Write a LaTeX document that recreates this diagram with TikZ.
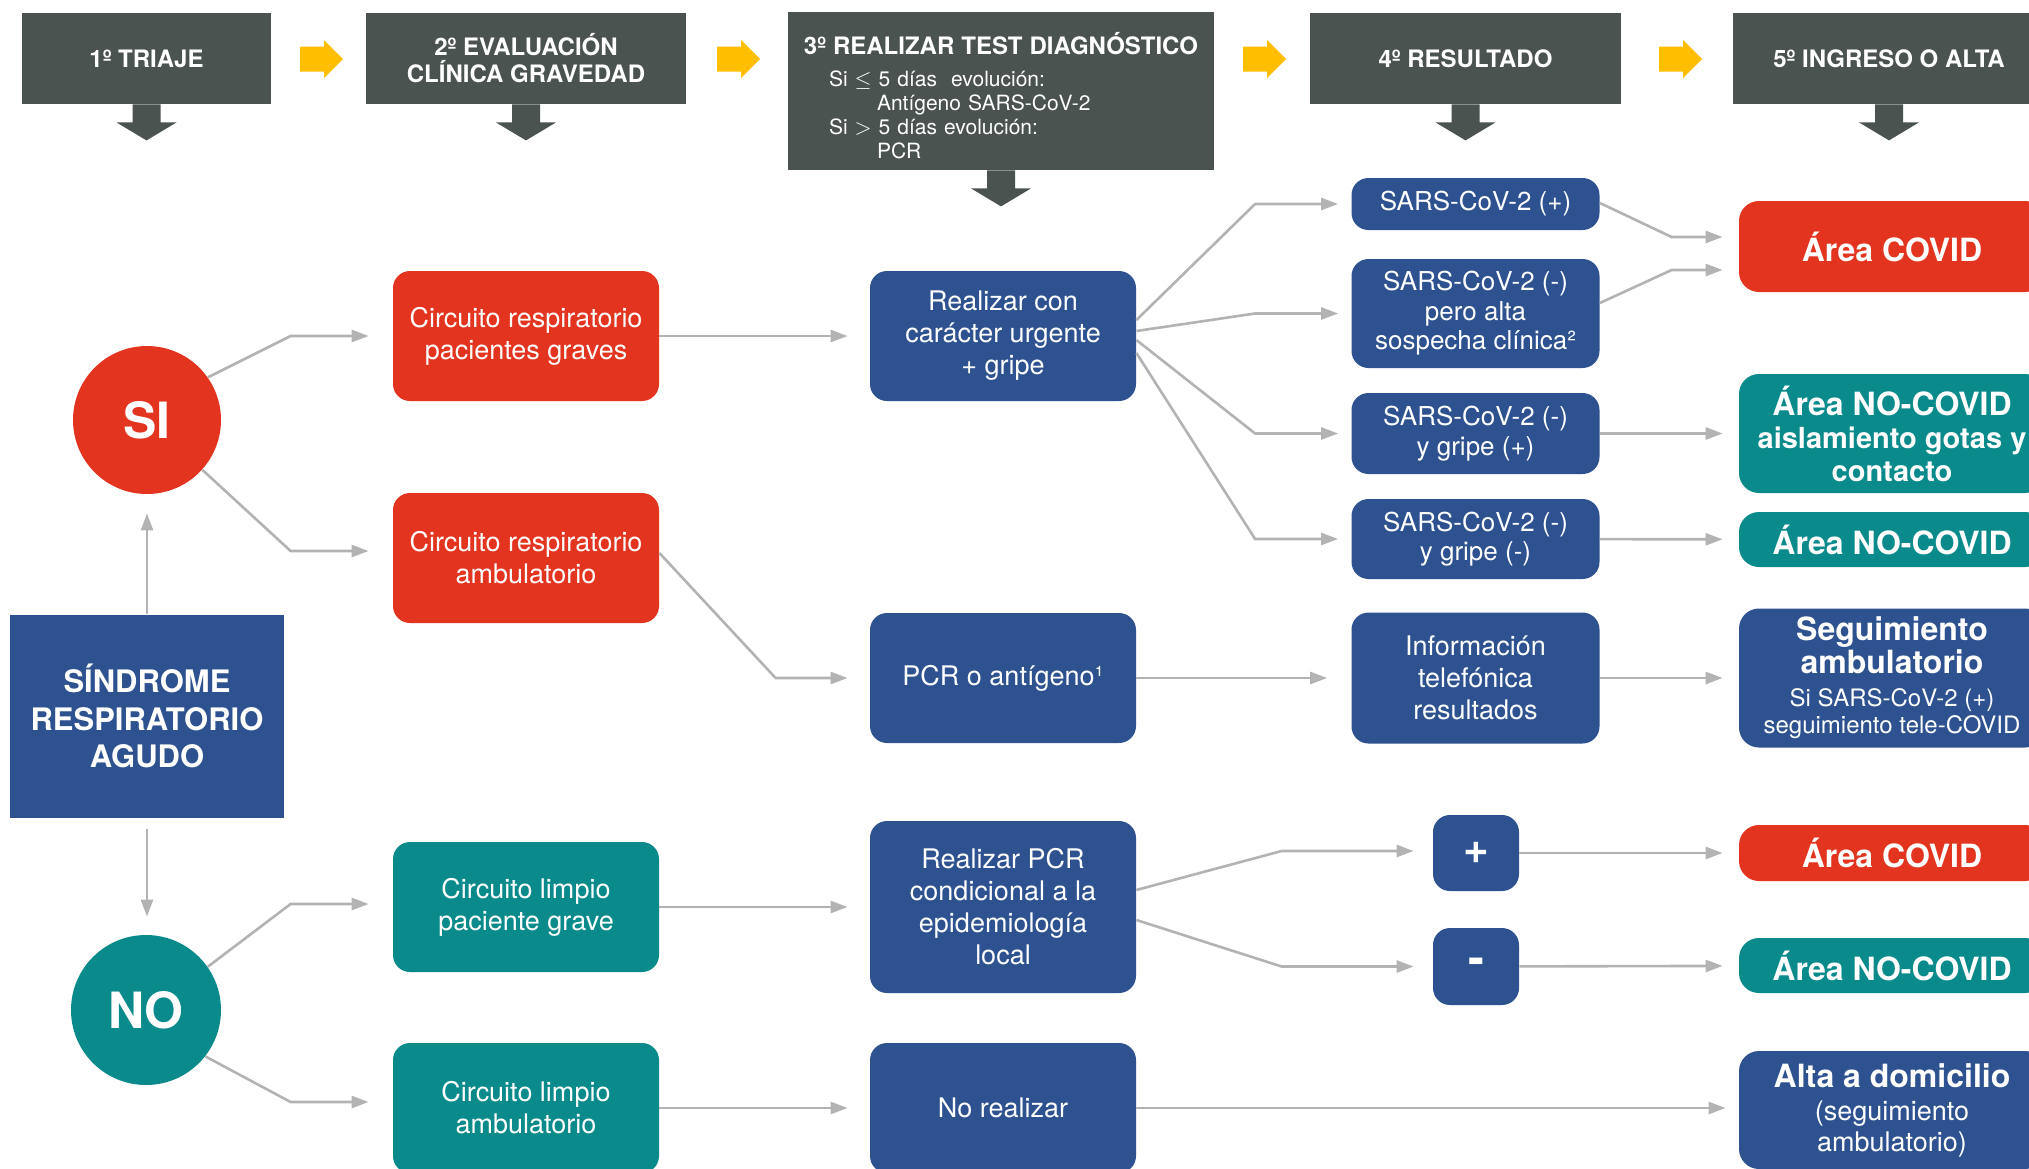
\documentclass[tikz,border=0pt]{standalone}
\usepackage{fontspec}
\setmainfont{TeX Gyre Heros}
\usetikzlibrary{arrows.meta}
\definecolor{hdgray}{HTML}{4B5351}
\definecolor{ylw}{HTML}{FFBF00}
\definecolor{bluec}{HTML}{2E5290}
\definecolor{redc}{HTML}{E2341E}
\definecolor{tealc}{HTML}{0A8A8A}
\definecolor{lnc}{HTML}{B3B3B3}
\tikzset{hd/.style = {fill=hdgray, text=white, inner sep=0pt, align=center, minimum height=45.5pt, font=\bfseries\fontsize{12}{13.5}\selectfont},
    bx/.style = {rounded corners=8.5pt, text=white, inner sep=0pt, align=center, minimum width=133pt, minimum height=65pt, font=\fontsize{13.5}{16}\selectfont},
    rb/.style = {bx, fill=redc},
    tb/.style = {bx, fill=tealc},
    bb/.style = {bx, fill=bluec},
    rs/.style = {bx, fill=bluec, minimum width=124pt, font=\fontsize{13}{14.8}\selectfont},
    ex/.style = {rounded corners=10pt, text=white, inner sep=0pt, align=center, minimum width=153pt, font=\bfseries\fontsize{16}{16.5}\selectfont},
    ci/.style = {circle, text=white, inner sep=0pt, minimum size=74pt, font=\bfseries\fontsize{25}{25}\selectfont},
    ln/.style = {draw=lnc, line width=1.3pt, -{Triangle[length=8.5pt,width=6pt]}}}

\begin{document}
\begin{tikzpicture}[x=0.5pt, y=-0.5pt]
        \path[use as bounding box, fill=white] (0,0) rectangle (2029,1168);

        % headers
        \node[hd, minimum width=124.5pt] (hd1) at (146.5,58.5) {1º TRIAJE};
        \node[hd, minimum width=160pt] (hd2) at (526,58.5) {2º EVALUACIÓN\\CLÍNICA GRAVEDAD};
        \node[hd, minimum width=213pt, minimum height=79pt, text width=206pt, align=left,
              font=\mdseries\fontsize{10.5}{12}\selectfont] (hd3) at (1001,91)
              {\rule{0pt}{16pt}\makebox[\linewidth][c]{\bfseries\fontsize{12}{12}\selectfont 3º REALIZAR TEST DIAGNÓSTICO}\\[4pt]
               \hspace*{17pt}Si $\leq$ 5 días\ \ evolución:\\
               \hspace*{41pt}Antígeno SARS-CoV-2\\
               \hspace*{17pt}Si $>$ 5 días evolución:\\
               \hspace*{41pt}PCR};
        \node[hd, minimum width=155.5pt] (hd4) at (1465.5,58.5) {4º RESULTADO};
        \node[hd, minimum width=156pt] (hd5) at (1889,58.5) {5º INGRESO O ALTA};

        \foreach \n in {hd1,hd2,hd3,hd4,hd5}
            \fill[hdgray] ([xshift=-7pt]\n.south) -- ++(14pt,0) -- ++(0,-9pt) -- ++(8pt,0)
                -- ++(-15pt,-9pt) -- ++(-15pt,9pt) -- ++(8pt,0) -- cycle;
        \foreach \x in {300,717,1243,1659}
            \fill[ylw] (\x,46.5) -- (\x+24,46.5) -- (\x+24,40) -- (\x+43,59)
                -- (\x+24,78) -- (\x+24,71.5) -- (\x,71.5) -- cycle;

        % left
        \node[fill=bluec, text=white, inner sep=0pt, align=center, minimum width=137pt, minimum height=101.5pt,
              font=\bfseries\fontsize{15.5}{18.8}\selectfont] (sra) at (147,716) {SÍNDROME\\RESPIRATORIO\\AGUDO};
        \node[ci, fill=redc] (si) at (147,420) {SI};
        \node[ci, fill=tealc, minimum size=75pt] (no) at (146,1010) {NO};

        % circuits
        \node[rb] (crg) at (526,336) {Circuito respiratorio\\pacientes graves};
        \node[rb] (cra) at (526,558) {Circuito respiratorio\\ambulatorio};
        \node[tb] (clg) at (526,907) {Circuito limpio\\paciente grave};
        \node[tb] (cla) at (526,1108) {Circuito limpio\\ambulatorio};

        % tests
        \node[bb] (urg) at (1003,336) {Realizar con\\carácter urgente\\+ gripe};
        \node[bb] (pcr) at (1003,678) {PCR o antígeno¹};
        \node[bb, minimum height=86pt] (epi) at (1003,907) {Realizar PCR\\condicional a la\\epidemiología\\local};
        \node[bb] (nor) at (1003,1108) {No realizar};

        % results
        \node[rs, minimum height=26pt] (pos) at (1475.5,204) {SARS-CoV-2 (+)};
        \node[rs, minimum height=54.5pt] (alt) at (1475.5,313.5) {SARS-CoV-2 (-)\\pero alta\\sospecha clínica²};
        \node[rs, minimum height=40.5pt] (gp) at (1475.5,433.5) {SARS-CoV-2 (-)\\y gripe (+)};
        \node[rs, minimum height=40pt] (gn) at (1475.5,539) {SARS-CoV-2 (-)\\y gripe (-)};
        \node[rs, minimum height=65.5pt, font=\fontsize{13.5}{16}\selectfont] (inf) at (1475.5,678) {Información\\telefónica\\resultados};
        \node[bb, minimum width=43pt, minimum height=38pt, font=\bfseries\fontsize{22}{22}\selectfont] (plus) at (1476,853) {+};
        \node[bb, minimum width=43pt, minimum height=38.5pt, font=\bfseries\fontsize{24}{24}\selectfont] (minus) at (1476,966.5) {-};

        % destinations
        \node[ex, fill=redc, minimum height=45.5pt] (cov1) at (1892,246.5) {Área COVID};
        \node[ex, fill=tealc, minimum height=59.5pt] (nc1) at (1892,433.5)
            {Área NO-COVID\\{\fontsize{14.5}{16.5}\selectfont aislamiento gotas y}\\{\fontsize{14.5}{16.5}\selectfont contacto}};
        \node[ex, fill=tealc, minimum height=27.5pt] (nc2) at (1892,539.5) {Área NO-COVID};
        \node[ex, fill=bluec, minimum height=69.5pt] (seg) at (1892,678)
            {Seguimiento\\ambulatorio\\{\mdseries\fontsize{12}{13.5}\selectfont Si SARS-CoV-2 (+)}\\[-3pt]{\mdseries\fontsize{12}{13.5}\selectfont seguimiento tele-COVID}};
        \node[ex, fill=redc, minimum height=28pt] (cov2) at (1892,853) {Área COVID};
        \node[ex, fill=tealc, minimum height=27.5pt] (nc3) at (1892,965.5) {Área NO-COVID};
        \node[ex, fill=bluec, minimum height=59pt] (alta) at (1892,1110)
            {Alta a domicilio\\{\mdseries\fontsize{13.5}{15}\selectfont (seguimiento}\\[-1pt]{\mdseries\fontsize{13.5}{15}\selectfont ambulatorio)}};

        % connectors
        \draw[ln, shorten >=9.5pt] (sra.north) -- (sra.north |- si.south);
        \draw[ln, shorten <=5.5pt, shorten >=9pt] (sra.south) -- (sra.south |- no.north);

        \draw[ln, shorten >=12pt] (si.35) -- ([xshift=-51pt]crg.west) -- (crg.west);
        \draw[ln, shorten >=12pt] (si.-42) -- ([xshift=-51pt, yshift=3.5pt]cra.west) -- ([yshift=3.5pt]cra.west);
        \draw[ln, shorten >=12pt] (no.35) -- ([xshift=-51pt, yshift=1.5pt]clg.west) -- ([yshift=1.5pt]clg.west);
        \draw[ln, shorten >=12pt] (no.-38) -- ([xshift=-51pt, yshift=3pt]cla.west) -- ([yshift=3pt]cla.west);

        \foreach \a/\b in {crg/urg, clg/epi, cla/nor}
            \draw[ln, shorten >=11pt] (\a) -- (\b);
        \draw[ln, shorten >=11pt] ([yshift=2.5pt]cra.east) -- ([xshift=-47pt]pcr.west) -- (pcr.west);

        \foreach \s/\t in {8/pos, 2.5/alt, -2/gp, -8.5/gn}
            \draw[ln, shorten >=6.5pt] ([yshift=\s pt]urg.east) -- ([xshift=-48pt]\t.west) -- (\t.west);
        \draw[ln, shorten >=12pt] (pcr) -- (inf);
        \draw[ln, shorten >=9.5pt] ([yshift=8.5pt]epi.east) -- ([xshift=-75.5pt, yshift=1pt]plus.west) -- ([yshift=1pt]plus.west);
        \draw[ln, shorten >=9.5pt] ([yshift=-6.5pt]epi.east) -- ([xshift=-75.5pt]minus.west) -- (minus.west);

        \draw[ln, shorten >=8pt] ([yshift=0.5pt]pos.east) -- ([xshift=-33.5pt, yshift=4.75pt]cov1.west) -- ([yshift=4.75pt]cov1.west);
        \draw[ln, shorten >=8pt] ([yshift=5.25pt]alt.east) -- ([xshift=-33.5pt, yshift=-11.75pt]cov1.west) -- ([yshift=-11.75pt]cov1.west);
        \foreach \a/\b in {gp/nc1, gn/nc2, inf/seg, plus/cov2, minus/nc3}
            \draw[ln, shorten >=8pt] (\a) -- (\b);
        \draw[ln, shorten >=6.5pt] (nor.east) -- (nor.east -| alta.west);
    \end{tikzpicture}
\end{document}
